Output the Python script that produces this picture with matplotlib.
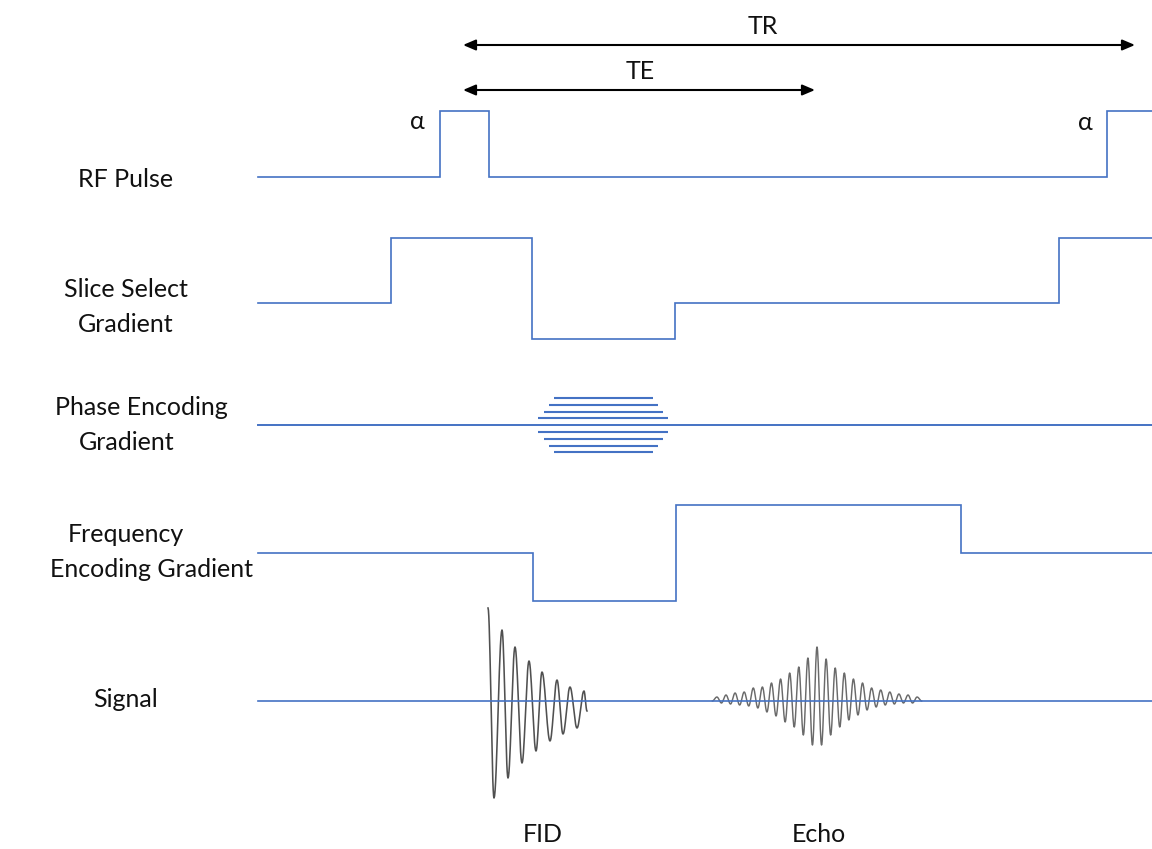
import numpy as np
import matplotlib
matplotlib.use("Agg")
import matplotlib.pyplot as plt
from matplotlib.patches import FancyArrowPatch

# ---- sequence timing (time axis runs left to right, arbitrary units) ----
rf_edges = [258, 440, 489, 1107, 1152]
rf_levels = [0, 66, 0, 66]

ss_edges = [258, 391, 532, 675, 1059, 1152]
ss_levels = [0, 65, -36, 0, 65]

fe_edges = [258, 533, 676, 961, 1152]
fe_levels = [0, -48, 48, 0]

pe_center = 603
pe_steps = [27, 20.5, 13.5, 7]          # phase-encoding step amplitudes
pe_durations = [99, 109, 119, 130]      # lobe length of each step

# FID: successive extrema (time, amplitude)
fid_times = [488, 494, 502, 508, 515, 522, 529, 536, 542, 550,
             557, 563, 570, 577, 584, 587]
fid_amps = [93, -97, 71, -77, 54, -62, 40, -50, 29, -40,
            21, -33, 14, -27, 10, -10]

# Echo: successive extrema around the echo centre
echo_center = 817
echo_half_period = 4.55
echo_amps = [0, 4, -2, 6, -3, 8, -4, 9, -5, 13, -7, 14, -11, 18, -15, 22,
             -21, 28, -26, 34, -34, 43, -44, 54, -44, 42, -34, 33, -26, 28,
             -19, 22, -14, 18, -9, 13, -6, 11, -4, 9, -3, 7, -2, 6, -2, 4, 0]

te_span = (463, 815)
tr_span = (463, 1135)

row_labels = [["RF Pulse"], ["Slice Select", "Gradient"],
              ["Phase Encoding", "Gradient"], ["Frequency", "Encoding Gradient"],
              ["Signal"]]

# ---- layout ----
W, H = 1152, 849
rf_base, ss_base, pe_base, fe_base, sig_base = 177, 303, 425, 553, 701
BLUE = "#4472C4"
FONT = ["Lato", "Open Sans", "DejaVu Sans"]
FS = 18
TXT = "#111111"

fig = plt.figure(figsize=(W / 100, H / 100), dpi=100)
ax = fig.add_axes([0, 0, 1, 1])
ax.set_xlim(0, W)
ax.set_ylim(H, 0)
ax.axis("off")


def step_line(edges, levels, base):
    y = [base - v for v in levels] + [base - levels[-1]]
    ax.plot(edges, y, drawstyle="steps-post", color=BLUE, lw=1.2,
            solid_joinstyle="miter")


step_line(rf_edges, rf_levels, rf_base)
step_line(ss_edges, ss_levels, ss_base)
step_line(fe_edges, fe_levels, fe_base)

# phase encoding table
ax.plot([rf_edges[0], W], [pe_base, pe_base], color=BLUE, lw=1.4)
for a, d in zip(pe_steps, pe_durations):
    for s in (1, -1):
        ax.plot([pe_center - d / 2, pe_center + d / 2],
                [pe_base - s * a, pe_base - s * a], color=BLUE, lw=1.5,
                solid_capstyle="butt")


def wave_through(times, amps, base, color, lw):
    xs, ys = [], []
    for (t0, a0), (t1, a1) in zip(zip(times[:-1], amps[:-1]),
                                  zip(times[1:], amps[1:])):
        u = np.linspace(0, 1, 16)
        xs.append(t0 + (t1 - t0) * u)
        ys.append(base - (a0 + (a1 - a0) * (1 - np.cos(np.pi * u)) / 2))
    ax.plot(np.concatenate(xs), np.concatenate(ys), color=color,
            lw=lw, zorder=2)


wave_through(fid_times, fid_amps, sig_base, "#505050", 1.15)
n = len(echo_amps) // 2
echo_times = [echo_center + echo_half_period * j for j in range(-n, n + 1)]
wave_through(echo_times, echo_amps, sig_base, "#6a6a6a", 1.05)
ax.plot([rf_edges[0], W], [sig_base, sig_base], color=BLUE, lw=1.2, zorder=3)

# TE / TR arrows
for (x0, x1), y, lab, tx, ty in [(tr_span, 45, "TR", 763, 34),
                                 (te_span, 90, "TE", 640, 79)]:
    arr = FancyArrowPatch((x0, y), (x1, y),
                          arrowstyle="<|-|>,head_length=0.75,head_width=0.32",
                          mutation_scale=10, color="black", lw=1.5,
                          shrinkA=0, shrinkB=0)
    ax.add_patch(arr)
    ax.text(tx, ty, lab, ha="center", va="baseline", fontsize=FS,
            family=FONT, color=TXT)

ax.text(417, 129, "α", ha="center", va="baseline", fontsize=FS,
        family=FONT, color=TXT)
ax.text(1085, 130, "α", ha="center", va="baseline", fontsize=FS,
        family=FONT, color=TXT)

label_pos = [[(126, 187)], [(126, 297), (126, 332)],
             [(141, 415), (127, 450)], [(126, 542), (152, 577)],
             [(126, 707)]]
for lines, poss in zip(row_labels, label_pos):
    for txt, (x, y) in zip(lines, poss):
        ax.text(x, y, txt, ha="center", va="baseline", fontsize=FS,
                family=FONT, color=TXT)

ax.text(543, 842, "FID", ha="center", va="baseline", fontsize=FS,
        family=FONT, color=TXT)
ax.text(819, 842, "Echo", ha="center", va="baseline", fontsize=FS,
        family=FONT, color=TXT)

fig.savefig("out.png", dpi=100, facecolor="white")
